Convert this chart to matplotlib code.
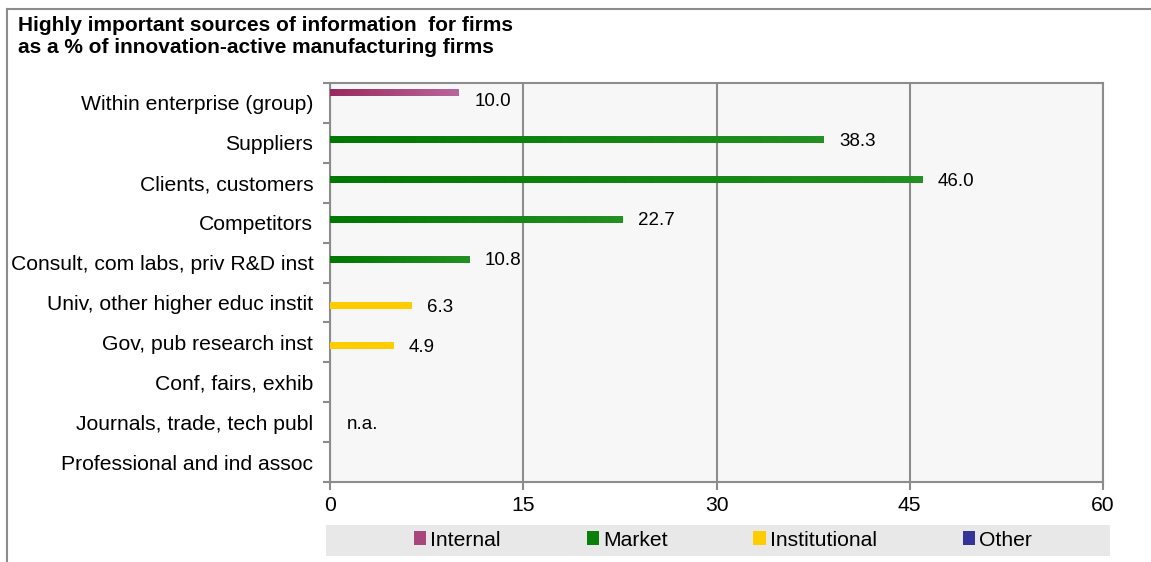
# Highly important sources of information for firms - horizontal grouped bars
import numpy as np
import matplotlib.pyplot as plt
from matplotlib.patches import Rectangle
from matplotlib.lines import Line2D
from matplotlib.colors import LinearSegmentedColormap

plt.rcParams["font.family"] = ["Liberation Sans", "DejaVu Sans"]

# Data
categories = [
    "Within enterprise (group)",
    "Suppliers",
    "Clients, customers",
    "Competitors",
    "Consult, com labs, priv R&D inst",
    "Univ, other higher educ instit",
    "Gov, pub research inst",
    "Conf, fairs, exhib",
    "Journals, trade, tech publ",
    "Professional and ind assoc",
]
series_names = ["Internal", "Market", "Institutional", "Other"]
internal = [10.0, None, None, None, None, None, None, None, None, None]
market = [None, 38.3, 46.0, 22.7, 10.8, None, None, None, None, None]
institutional = [None, None, None, None, None, 6.3, 4.9, None, None, None]
other = [None] * 10
na_category = "Journals, trade, tech publ"
x_ticks = [0, 15, 30, 45, 60]

# Styles
grad_colors = [("#992a5f", "#b8669a"), ("#007800", "#229022"),
               ("#ffcc00", "#ffcc00"), ("#2e2e8f", "#4a4ab0")]
legend_colors = ["#a8457a", "#0a800a", "#ffcc00", "#333399"]
label_dy = [0.22, 0.04, 0.04, 0.04]
grey = "#8c8c8c"

fig = plt.figure(figsize=(11.51, 5.62), dpi=100)
ax = fig.add_axes([330 / 1151, 1 - 482 / 562, 773 / 1151, 399 / 562])
ax.set_facecolor("#f7f7f7")

y = np.arange(len(categories))
bar_h = 0.167
offsets = [-0.25, -0.083, 0.083, 0.25]
all_series = [internal, market, institutional, other]

for s, vals in enumerate(all_series):
    idx = [i for i, v in enumerate(vals) if v is not None]
    if not idx:
        continue
    widths = [vals[i] for i in idx]
    bars = ax.barh(y[idx] + offsets[s], widths, height=bar_h,
                   color=grad_colors[s][0], zorder=3)
    cmap = LinearSegmentedColormap.from_list("g%d" % s, grad_colors[s])
    for b, i, v in zip(bars, idx, widths):
        x0, y0 = b.get_x(), b.get_y()
        ax.imshow(np.linspace(0, 1, 64).reshape(1, -1), cmap=cmap, aspect="auto",
                  extent=(x0, x0 + b.get_width(), y0 + b.get_height(), y0),
                  zorder=4)
        ax.text(v + 1.2, y[i] + offsets[s] + label_dy[s], f"{v:.1f}",
                ha="left", va="center", fontsize=13.5, zorder=5)

na_i = categories.index(na_category)
ax.text(1.3, na_i + 0.05, "n.a.", ha="left", va="center", fontsize=13.5)

ax.set_xlim(0, 60)
ax.set_ylim(len(categories) - 0.5, -0.5)
ax.set_xticks(x_ticks)
ax.set_yticks(y)
ax.set_yticklabels(categories, fontsize=15.2)
ax.set_yticks(np.arange(len(categories) + 1) - 0.5, minor=True)
ax.tick_params(axis="y", which="major", length=0, pad=12)
ax.tick_params(axis="y", which="minor", length=5, width=1.5, color=grey)
ax.tick_params(axis="x", length=6, width=1.5, color=grey, labelsize=15.2, pad=4)
ax.grid(axis="x", color=grey, linewidth=1.5, zorder=1)
ax.set_axisbelow(True)
for sp in ax.spines.values():
    sp.set_color(grey)
    sp.set_linewidth(1.5)

# Title
fig.text(18 / 1151, 1 - 16 / 562,
         "Highly important sources of information  for firms\n"
         "as a % of innovation-active manufacturing firms",
         ha="left", va="top", fontsize=15, fontweight="bold", linespacing=1.2)

# Outer frame lines (left and top)
fig.add_artist(Line2D([6.5 / 1151, 6.5 / 1151], [0, 1 - 9 / 562],
                      transform=fig.transFigure, color=grey, linewidth=1.5))
fig.add_artist(Line2D([6.5 / 1151, 1], [1 - 9 / 562, 1 - 9 / 562],
                      transform=fig.transFigure, color=grey, linewidth=1.5))

# Legend band
fig.add_artist(Rectangle((326 / 1151, 1 - 556 / 562), 784 / 1151, 31 / 562,
                         transform=fig.transFigure, facecolor="#e8e8e8",
                         edgecolor="none", zorder=0))
handles = [Rectangle((0, 0), 1, 1, facecolor=c, edgecolor="none")
           for c in legend_colors]
fig.legend(handles, series_names, loc="center", ncol=4,
           bbox_to_anchor=(723 / 1151, 1 - 540 / 562), frameon=False,
           fontsize=15.2, handlelength=0.58, handleheight=0.58,
           handletextpad=0.2, columnspacing=4.06, borderpad=0)

plt.savefig("out.png", dpi=100)
